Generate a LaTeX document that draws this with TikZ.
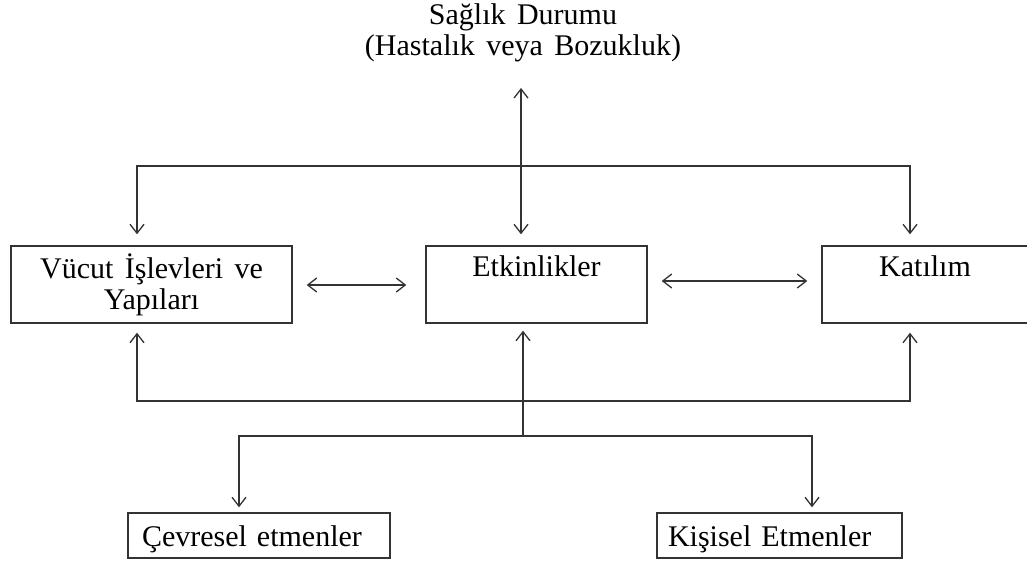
\documentclass[tikz,border=0pt]{standalone}
\usepackage{fontspec}
\setmainfont{Liberation Serif}
\usetikzlibrary{arrows.meta}
\definecolor{ln}{HTML}{333333}
\newcommand{\dgfont}{\fontsize{30}{31}\selectfont\spaceskip=0.38em plus 0.1em minus 0.05em\relax}
\begin{document}
\begin{tikzpicture}[x=1pt,y=-1pt,
  every node/.style={font=\dgfont, text=black},
  box/.style={draw=ln, line width=1.4pt, inner sep=0pt, align=center},
  lbox/.style={draw=ln, line width=1.4pt, inner ysep=0pt, minimum height=45pt, align=left, text height=24pt, text depth=3pt},
  conn/.style={draw=ln, line width=1.3pt, arrows={Straight Barb[length=9pt,width=14pt,line width=1.3pt]-Straight Barb[length=9pt,width=14pt,line width=1.3pt]}},
  toarr/.style={draw=ln, line width=1.3pt, -{Straight Barb[length=9pt,width=14pt,line width=1.3pt]}}
]
\useasboundingbox (0,0) rectangle (1027,562);
% nodes
\node[align=center] (health) at (523,33) {Sağlık Durumu\\(Hastalık veya Bozukluk)};
\node[box, minimum width=281pt, minimum height=77pt] (vucut) at (151.5,284.5) {Vücut İşlevleri ve\\Yapıları};
\node[box, minimum width=221pt, minimum height=77pt] (etk) at (536.5,284.5) {\raisebox{-3pt}{Etkinlikler}\\\strut};
\node[box, minimum width=206pt, minimum height=77pt] (kat) at (925,284.5) {\raisebox{-3pt}{Katılım}\\\strut};
\node[lbox, inner xsep=14pt, text width=234pt] (cev) at (259,535.5) {Çevresel etmenler};
\node[lbox, inner xsep=11pt, text width=223pt] (kis) at (779.5,535.5) {Kişisel Etmenler};
% coordinates
\coordinate (hT) at (521,88);
\coordinate (tl) at (137,166);
\coordinate (tr) at (910,166);
\coordinate (bl) at (137,401);
\coordinate (br) at (910,401);
\coordinate (jc) at (523,436);
\coordinate (cl) at (239,436);
\coordinate (kl) at (812,436);
% connectors
\draw[conn, shorten >=11pt] (hT) -- (hT |- etk.north);
\draw[conn, shorten <=11pt, shorten >=11pt] (tl |- vucut.north) -- (tl) -- (tr) -- (tr |- kat.north);
\draw[conn, shorten <=9pt, shorten >=9pt] (bl |- vucut.south) -- (bl) -- (br) -- (br |- kat.south);
\draw[toarr, shorten >=7pt] (jc) -- (jc |- etk.south);
\draw[conn, shorten <=5pt, shorten >=5pt] (cl |- cev.north) -- (cl) -- (kl) -- (kl |- kis.north);
\draw[conn, shorten <=14pt, shorten >=19pt] (vucut.east |- 0,285) -- (etk.west |- 0,285);
\draw[conn, shorten <=14pt, shorten >=14pt] (etk.east |- 0,281) -- (kat.west |- 0,281);
\end{tikzpicture}
\end{document}
